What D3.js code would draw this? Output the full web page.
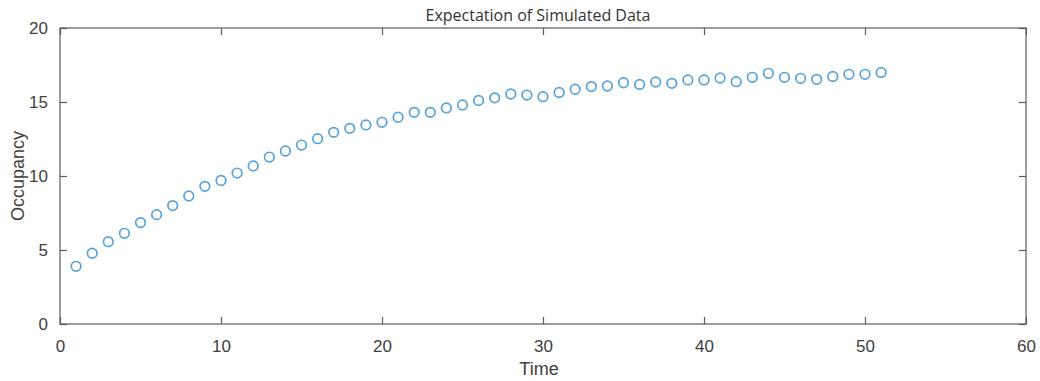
<!DOCTYPE html>
<html>
<head>
<meta charset="utf-8">
<script src="https://cdn.jsdelivr.net/npm/d3@7/dist/d3.min.js"></script>
<style>
  html, body { margin: 0; padding: 0; background: #fff; }
  svg { display: block; }
</style>
</head>
<body>
<svg id="chart" width="1040" height="381"></svg>
<script>
const titleText = "Expectation of Simulated Data";
const xLabel = "Time";
const yLabel = "Occupancy";
const xTicks = [0, 10, 20, 30, 40, 50, 60];
const yTicks = [0, 5, 10, 15, 20];
const times = d3.range(1, 52);
const occupancy = [
  3.90, 4.78, 5.56, 6.13, 6.85, 7.39, 8.00, 8.65, 9.30, 9.70,
  10.20, 10.68, 11.28, 11.69, 12.09, 12.52, 12.95, 13.22, 13.45, 13.63,
  13.97, 14.30, 14.30, 14.60, 14.80, 15.10, 15.28, 15.54, 15.47, 15.36,
  15.65, 15.86, 16.04, 16.08, 16.30, 16.19, 16.35, 16.26, 16.49, 16.49,
  16.62, 16.37, 16.67, 16.94, 16.67, 16.60, 16.53, 16.73, 16.87, 16.87,
  17.00
];

const svg = d3.select("#chart");
const mLeft = 60, mRight = 1026, mTop = 28, mBottom = 324;
const x = d3.scaleLinear().domain([0, 60]).range([mLeft, mRight]);
const y = d3.scaleLinear().domain([0, 20]).range([mBottom, mTop]);

const axisColor = "#5a5a5a";
const textColor = "#404040";
const tickLen = 7;

svg.append("rect")
  .attr("x", mLeft).attr("y", mTop)
  .attr("width", mRight - mLeft).attr("height", mBottom - mTop)
  .attr("fill", "none").attr("stroke", axisColor).attr("stroke-width", 1.2);

const xAxis = svg.append("g").attr("transform", `translate(0,${mBottom})`)
  .call(d3.axisBottom(x).tickValues(xTicks).tickSizeInner(-tickLen).tickSizeOuter(0).tickPadding(16));
const yAxis = svg.append("g").attr("transform", `translate(${mLeft},0)`)
  .call(d3.axisLeft(y).tickValues(yTicks).tickSizeInner(-tickLen).tickSizeOuter(0).tickPadding(12));
const xTop = svg.append("g").attr("transform", `translate(0,${mTop})`)
  .call(d3.axisTop(x).tickValues(xTicks).tickSizeInner(-tickLen).tickSizeOuter(0).tickFormat(""));
const yRight = svg.append("g").attr("transform", `translate(${mRight},0)`)
  .call(d3.axisRight(y).tickValues(yTicks).tickSizeInner(-tickLen).tickSizeOuter(0).tickFormat(""));

[xAxis, yAxis, xTop, yRight].forEach(g => {
  g.select(".domain").remove();
  g.selectAll(".tick line").attr("stroke", axisColor).attr("stroke-width", 1.2);
  g.selectAll(".tick text")
    .attr("fill", textColor)
    .style("font-family", "'Liberation Sans', Arial, sans-serif")
    .style("font-size", "17px");
});
xAxis.selectAll(".tick text").attr("dy", "0.71em");

svg.append("text")
  .attr("x", (mLeft + mRight) / 2 - 5).attr("y", 21)
  .attr("text-anchor", "middle")
  .attr("fill", "#333")
  .style("font-family", "'Open Sans', 'Noto Sans', sans-serif")
  .style("font-size", "16px")
  .text(titleText);

svg.append("text")
  .attr("x", (mLeft + mRight) / 2 - 4).attr("y", 375)
  .attr("text-anchor", "middle")
  .attr("fill", textColor)
  .style("font-family", "'Liberation Sans', Arial, sans-serif")
  .style("font-size", "18px")
  .text(xLabel);

svg.append("text")
  .attr("transform", `translate(24,${(mTop + mBottom) / 2}) rotate(-90)`)
  .attr("text-anchor", "middle")
  .attr("fill", textColor)
  .style("font-family", "'Liberation Sans', Arial, sans-serif")
  .style("font-size", "18px")
  .text(yLabel);

svg.append("g").selectAll("circle")
  .data(times.map((t, i) => ({ t, v: occupancy[i] })))
  .join("circle")
  .attr("cx", d => x(d.t))
  .attr("cy", d => y(d.v))
  .attr("r", 4.8)
  .attr("fill", "none")
  .attr("stroke", "#55a2dc")
  .attr("stroke-width", 1.7);
</script>
</body>
</html>
